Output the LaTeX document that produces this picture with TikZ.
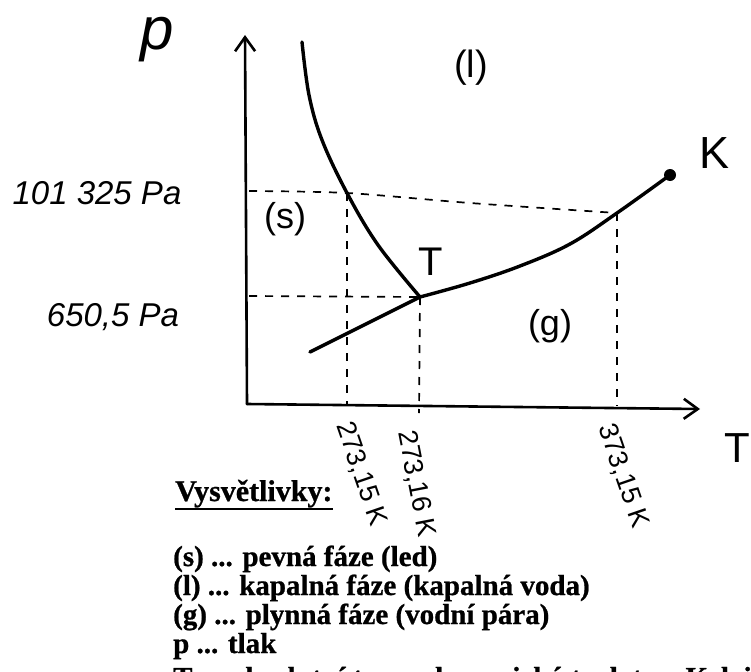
\documentclass[tikz,border=0pt]{standalone}
\usepackage{fontspec}
\setmainfont{Liberation Serif}[BoldFeatures={FakeBold=0.8}]
\newfontfamily\hand{Liberation Sans}
\usetikzlibrary{arrows.meta}
\begin{document}
\begin{tikzpicture}[x=1pt,y=-1pt,
  curve/.style={line width=3.4pt, line cap=round, line join=round},
  axisline/.style={line width=2.6pt, line cap=round,
    -{Straight Barb[length=14pt,width=20pt,line width=2.6pt]}},
  guide/.style={line width=1.7pt, dash pattern=on 8pt off 8pt},
  hw/.style={font=\hand, inner sep=0pt},
  leg/.style={font=\fontsize{29}{29}\selectfont\bfseries, anchor=base west, inner sep=0pt},
]
\useasboundingbox (0,0) rectangle (751,671);
\clip (0,0) rectangle (751,671);

% key points
\coordinate (O) at (247,404);
\coordinate (Ytip) at (245,35);
\coordinate (Xtip) at (700,409);
\coordinate (Tp) at (420,297);
\coordinate (Kp) at (670,175);
\coordinate (A) at (347,193);
\coordinate (B) at (617,213);
\coordinate (Ya) at (249,191);
\coordinate (Yt) at (249,296);
\coordinate (Xa) at (347,404);
\coordinate (Xt) at (419,413);
\coordinate (Xb) at (617,406);
\coordinate (Fs) at (302,42);
\coordinate (Ss) at (310,352);

% axes
\draw[axisline] (O) -- (Ytip);
\draw[axisline] (O) -- (Xtip);

% guide lines
\draw[guide] plot[smooth] coordinates {(Ya) (A) (470,203) (B)};
\draw[guide] (Yt) -- (Tp);
\draw[guide] (A) -- (Xa);
\draw[guide] (Tp) -- (Xt);
\draw[guide] (B) -- (Xb);

% phase boundaries
\draw[curve] plot[smooth, tension=0.6] coordinates {(Fs) (309,95) (322,140) (A) (378,245) (Tp)};
\draw[curve] plot[smooth, tension=0.6] coordinates {(Tp) (470,283) (520,266) (570,244) (B) (Kp)};
\draw[curve] (Ss) -- (Tp);
\fill (Kp) circle[radius=6pt];

% handwritten labels
\node[hw, font=\hand\itshape\fontsize{60}{60}\selectfont] (plab) at (157,40) {p};
\node[hw, font=\hand\fontsize{42}{42}\selectfont] (Tlab) at (737,448) {T};
\node[hw, font=\hand\fontsize{40}{40}\selectfont] (Tpl) at (431,262) {T};
\node[hw, font=\hand\fontsize{45}{45}\selectfont] (Klab) at (714,153) {K};
\node[hw, font=\hand\fontsize{38}{38}\selectfont] (liq) at (471,68) {(l)};
\node[hw, font=\hand\fontsize{36}{36}\selectfont] (sol) at (285,219) {(s)};
\node[hw, font=\hand\fontsize{36}{36}\selectfont] (gas) at (550,326) {(g)};
\node[hw, font=\hand\itshape\fontsize{33}{33}\selectfont] (p1) at (97,193) {101 325 Pa};
\node[hw, font=\hand\itshape\fontsize{33}{33}\selectfont] (p2) at (113,317) {650,5 Pa};
\node[hw, font=\hand\fontsize{27}{27}\selectfont, rotate=-71] (t1) at (361,474) {273,15 K};
\node[hw, font=\hand\fontsize{27}{27}\selectfont, rotate=-79] (t2) at (416,484) {273,16 K};
\node[hw, font=\hand\fontsize{27}{27}\selectfont, rotate=-71] (t3) at (623,476) {373,15 K};

% legend
\node[leg, font=\fontsize{30}{32}\selectfont\bfseries] (head) at (175,501) {Vysvětlivky:};
\draw[line width=2.5pt] ([yshift=-8pt]head.base west) -- ([yshift=-8pt]head.base east);
\node[leg] (l1) at (173,566) {(s) ... pevná fáze (led)};
\node[leg] (l2) at (173,595) {(l) ... kapalná fáze (kapalná voda)};
\node[leg] (l3) at (173,624) {(g) ... plynná fáze (vodní pára)};
\node[leg] (l4) at (173,653) {p ... tlak};
\node[leg] (l5) at (173,687) {T ... absolutní termodynamická teplota v Kelvinech};
\end{tikzpicture}
\end{document}
